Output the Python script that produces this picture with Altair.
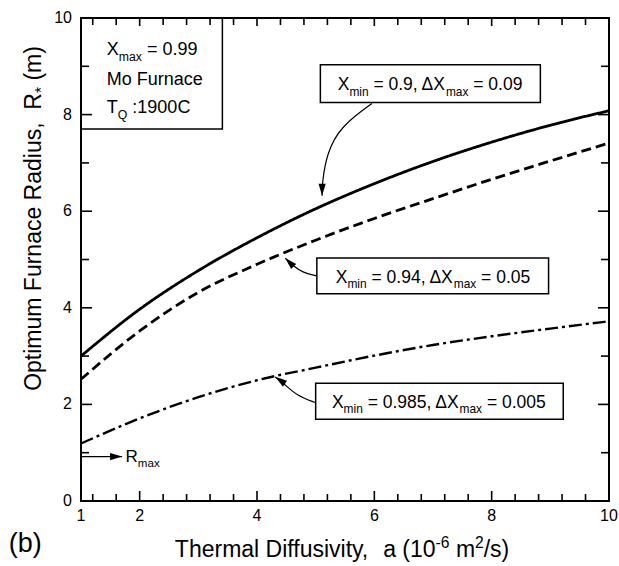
import altair as alt
import pandas as pd

# Plot area size (pixels) and axis ranges
W, H = 528, 483
X_DOMAIN = [1, 10]
Y_DOMAIN = [0, 10]
PX_X = W / (X_DOMAIN[1] - X_DOMAIN[0])
PX_Y = H / (Y_DOMAIN[1] - Y_DOMAIN[0])
FONT = "Liberation Sans"

# Thermal diffusivity a (10^-6 m^2/s)
diffusivity = [1, 2, 3, 4, 5, 6, 7, 8, 9, 10]
# Optimum furnace radius R* (m) for the three quench windows
radius_xmin_090 = [3.00, 3.97, 4.77, 5.45, 6.05, 6.57, 7.03, 7.43, 7.78, 8.08]
radius_xmin_094 = [2.52, 3.52, 4.32, 4.90, 5.40, 5.85, 6.26, 6.66, 7.04, 7.41]
radius_xmin_0985 = [1.19, 1.71, 2.15, 2.50, 2.76, 3.01, 3.23, 3.41, 3.57, 3.72]

# Axis ticks
x_labels = [1, 2, 4, 6, 8, 10]
x_major_ticks = [2, 4, 6, 8]
x_minor_ticks = [1.2, 1.6, 2.4, 2.8, 3.2, 3.6, 4.4, 4.8, 5.2, 5.6,
                 6.4, 6.8, 7.2, 7.6, 8.4, 8.8, 9.2, 9.6]
y_labels = [0, 2, 4, 6, 8, 10]
y_major_ticks = [2, 4, 6, 8]
y_minor_ticks = [1, 3, 5, 7, 9]

# Annotation boxes (data units): x1, x2, y1, y2, fill
box_x1 = [1.0, 5.08, 5.02, 5.00]
box_x2 = [3.41, 8.83, 8.97, 9.22]
box_y1 = [10.0, 9.03, 5.03, 2.44]
box_y2 = [7.70, 8.25, 4.29, 1.69]
box_fill = ["none", "white", "white", "white"]

# Curved leader arrows (data units), last point is the tip
arrow_paths = {
    "a1": ([5.96, 5.42, 5.19, 5.11, 5.11], [8.23, 7.75, 7.20, 6.58, 6.32]),
    "a2": ([5.02, 4.79, 4.59, 4.48], [4.66, 4.72, 4.89, 5.03]),
    "a3": ([4.99, 4.68, 4.45, 4.31], [2.04, 2.18, 2.44, 2.57]),
    "rmax": ([1.0, 1.70], [0.92, 0.92]),
}
arrow_heading = {"a1": 180, "a2": 315, "a3": 305, "rmax": 90}

# Arial / Liberation Sans advance widths (per 1000 em)
ADV = {' ': 278, '(': 333, ')': 333, ',': 278, '-': 333, '.': 278, '/': 278,
       ':': 278, '=': 584, '*': 389, 'C': 722, 'D': 722, 'F': 611, 'M': 833,
       'O': 778, 'Q': 778, 'R': 722, 'T': 611, 'X': 667, '\u0394': 668,
       'a': 556, 'b': 556, 'c': 500, 'd': 556, 'e': 556, 'f': 278, 'h': 556,
       'i': 222, 'l': 222, 'm': 833, 'n': 556, 'o': 556, 'p': 556, 'r': 333,
       's': 500, 't': 278, 'u': 556, 'v': 500, 'x': 500, 'y': 500}


def adv(s, size):
    return sum(ADV.get(c, 556) for c in s) * size / 1000.0


def text_run(parts, x, y, size, anchor="left", vertical=False):
    """Lay out a run of (text, role) pieces; role is n, sub or sup."""
    small = size * 0.68
    sizes = [size if r == "n" else small for _, r in parts]
    total = sum(adv(t, s) for (t, _), s in zip(parts, sizes))
    cur = -total / 2 if anchor == "center" else 0.0
    rows = []
    for (t, role), s in zip(parts, sizes):
        lead = len(t) - len(t.lstrip(" "))
        cur_t = cur + adv(t[:lead], s)
        shift = {"n": 0.0, "sub": -0.30 * size, "sup": 0.40 * size}[role]
        if vertical:
            px, py = x - shift / PX_X, y + cur_t / PX_Y
            ang = 270
        else:
            px, py = x + cur_t / PX_X, y + shift / PX_Y
            ang = 0
        if t.strip():
            rows.append({"x": px, "y": py, "t": t.strip(), "fs": s, "ang": ang})
        cur += adv(t, s)
    return rows


xs = alt.Scale(domain=X_DOMAIN, nice=False, zero=False)
ys = alt.Scale(domain=Y_DOMAIN, nice=False, zero=False)

curves = pd.DataFrame({
    "a": diffusivity * 3,
    "R": radius_xmin_090 + radius_xmin_094 + radius_xmin_0985,
    "case": ["c090"] * 10 + ["c094"] * 10 + ["c0985"] * 10,
})


def curve_layer(case, dash, sw):
    return alt.Chart(curves).transform_filter(alt.datum.case == case).mark_line(
        color="black", strokeWidth=sw, interpolate="monotone", strokeDash=dash
    ).encode(
        x=alt.X("a:Q", scale=xs, axis=None),
        y=alt.Y("R:Q", scale=ys, axis=None),
    )


solid = curve_layer("c090", [1, 0], 2.8)
dashed = curve_layer("c094", [10, 5], 2.8)
dashdot = curve_layer("c0985", [13, 4, 3, 4], 2.4)


# Inward tick marks on all four sides
def vticks(vals, length, side):
    df = pd.DataFrame({"v": vals})
    y0 = H if side == "bottom" else 0
    y1 = H - length if side == "bottom" else length
    return alt.Chart(df).mark_rule(color="black", strokeWidth=1.6).encode(
        x=alt.X("v:Q", scale=xs, axis=None),
        y=alt.value(y0), y2=alt.value(y1))


def hticks(vals, length, side):
    df = pd.DataFrame({"v": vals})
    x0 = 0 if side == "left" else W
    x1 = length if side == "left" else W - length
    return alt.Chart(df).mark_rule(color="black", strokeWidth=1.6).encode(
        y=alt.Y("v:Q", scale=ys, axis=None),
        x=alt.value(x0), x2=alt.value(x1))


ticks = [
    vticks(x_major_ticks, 10, "bottom"), vticks(x_minor_ticks, 7, "bottom"),
    vticks(x_major_ticks, 8, "top"), vticks(x_minor_ticks, 7, "top"),
    hticks(y_major_ticks, 11, "left"), hticks(y_minor_ticks, 8, "left"),
    hticks(y_major_ticks, 11, "right"), hticks(y_minor_ticks, 8, "right"),
]

# Tick labels
x_tick_labels = alt.Chart(pd.DataFrame({"v": x_labels})).mark_text(
    font=FONT, fontSize=16, color="black", align="center", baseline="top"
).encode(x=alt.X("v:Q", scale=xs, axis=None), y=alt.value(H + 7), text="v:Q")
y_tick_labels = alt.Chart(pd.DataFrame({"v": y_labels})).mark_text(
    font=FONT, fontSize=16, color="black", align="right", baseline="middle"
).encode(y=alt.Y("v:Q", scale=ys, axis=None), x=alt.value(-9), text="v:Q")

boxes_df = pd.DataFrame({"x1": box_x1, "x2": box_x2, "y1": box_y1, "y2": box_y2,
                         "fill": box_fill})
boxes = alt.Chart(boxes_df).mark_rect(stroke="black", strokeWidth=1.5).encode(
    x=alt.X("x1:Q", scale=xs, axis=None), x2="x2:Q",
    y=alt.Y("y1:Q", scale=ys, axis=None), y2="y2:Q",
    fill=alt.Fill("fill:N", scale=None),
)

rows = []
tips = []
for key, (px, py) in arrow_paths.items():
    for i, (a, b) in enumerate(zip(px, py)):
        rows.append({"id": key, "o": i, "x": a, "y": b})
    tips.append({"x": px[-1], "y": py[-1], "ang": arrow_heading[key]})
arrow_lines = alt.Chart(pd.DataFrame(rows)).mark_line(
    color="black", strokeWidth=1.2, interpolate="basis"
).encode(
    x=alt.X("x:Q", scale=xs, axis=None), y=alt.Y("y:Q", scale=ys, axis=None),
    detail="id:N", order="o:Q",
)
arrow_heads = alt.Chart(pd.DataFrame(tips)).mark_point(
    shape="M0,0L-0.6,2L0.6,2Z", filled=True, color="black", opacity=1, size=144
).encode(
    x=alt.X("x:Q", scale=xs, axis=None), y=alt.Y("y:Q", scale=ys, axis=None),
    angle=alt.Angle("ang:Q", scale=None),
)

# Text labels
labels = []
labels += text_run([("X", "n"), ("max", "sub"), (" = 0.99", "n")], 1.44, 9.23, 18)
labels += text_run([("Mo Furnace", "n")], 1.44, 8.61, 18)
labels += text_run([("T", "n"), ("Q", "sub"), (" :1900C", "n")], 1.44, 8.03, 18)
labels += text_run([("X", "n"), ("min", "sub"), (" = 0.9, \u0394X", "n"), ("max", "sub"),
                    (" = 0.09", "n")], 6.95, 8.50, 17.5, anchor="center")
labels += text_run([("X", "n"), ("min", "sub"), (" = 0.94, \u0394X", "n"), ("max", "sub"),
                    (" = 0.05", "n")], 7.0, 4.52, 17.5, anchor="center")
labels += text_run([("X", "n"), ("min", "sub"), (" = 0.985, \u0394X", "n"), ("max", "sub"),
                    (" = 0.005", "n")], 7.1, 1.93, 17.5, anchor="center")
labels += text_run([("R", "n"), ("max", "sub")], 1.76, 0.81, 17)
labels += text_run([("Thermal Diffusivity,", "n"), ("  a (10", "n"), ("-6", "sup"),
                    (" m", "n"), ("2", "sup"), ("/s)", "n")], 5.45, -1.16, 23,
                   anchor="center")
labels += text_run([("Optimum Furnace Radius,", "n"), ("  R", "n"), ("*", "sub"),
                    (" (m)", "n")], 0.31, 5.85, 23, anchor="center", vertical=True)
labels += text_run([("(b)", "n")], -0.23, -1.06, 27)

texts = alt.Chart(pd.DataFrame(labels)).mark_text(
    font=FONT, color="black", align="left", baseline="alphabetic"
).encode(
    x=alt.X("x:Q", scale=xs, axis=None), y=alt.Y("y:Q", scale=ys, axis=None),
    text="t:N", size=alt.Size("fs:Q", scale=None), angle=alt.Angle("ang:Q", scale=None),
)

chart = alt.layer(
    solid, dashed, dashdot, *ticks, x_tick_labels, y_tick_labels,
    arrow_lines, boxes, arrow_heads, texts
).properties(
    width=W, height=H, autosize="none",
    padding={"left": 81, "top": 18, "right": 10, "bottom": 65},
    background="white",
).configure_view(stroke="black", strokeWidth=2)

chart.save("out.html", embed_options={"renderer": "svg", "actions": False})
